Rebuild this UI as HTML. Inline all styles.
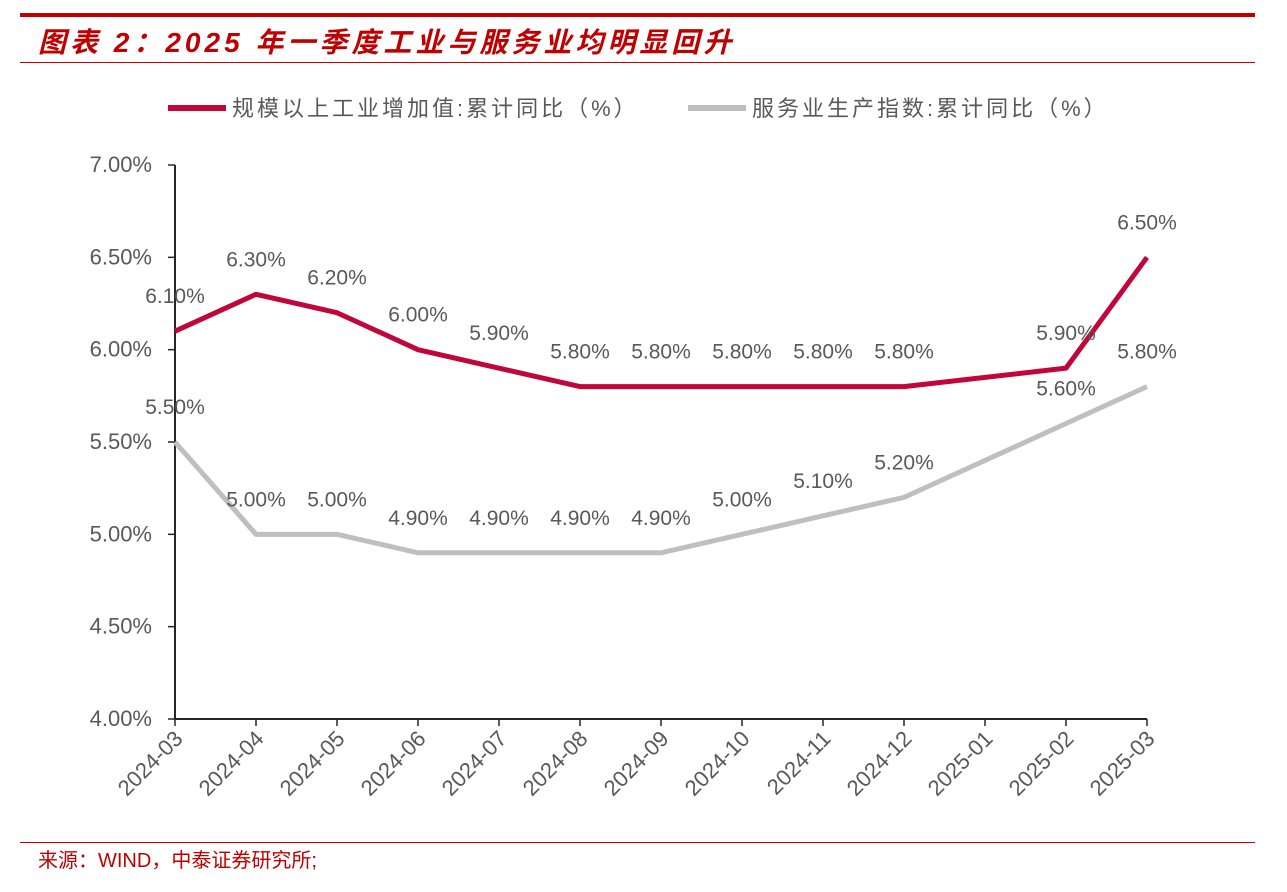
<!DOCTYPE html>
<html><head><meta charset="utf-8"><style>
body{margin:0;background:#fff;width:1287px;height:887px;overflow:hidden;font-family:"Liberation Sans","Noto Sans CJK SC",sans-serif}
</style></head><body>
<svg id="chart" width="1287" height="887" xmlns="http://www.w3.org/2000/svg" font-family="Liberation Sans, Noto Sans CJK SC, sans-serif">
<rect x="20" y="13" width="1235" height="4" fill="#c00000"/>
<text x="38" y="52" font-size="28" font-weight="bold" font-style="italic" letter-spacing="4" fill="#c00000">图表 2：2025 年一季度工业与服务业均明显回升</text>
<rect x="20" y="62" width="1235" height="1" fill="#c00000"/>
<g>
<line x1="168" y1="108" x2="226" y2="108" stroke="#c0063a" stroke-width="6"/>
<text x="232" y="116" font-size="22" letter-spacing="3" fill="#595959">规模以上工业增加值:累计同比（%）</text>
<line x1="688" y1="108" x2="746" y2="108" stroke="#bfbfbf" stroke-width="6"/>
<text x="752" y="116" font-size="22" letter-spacing="3" fill="#595959">服务业生产指数:累计同比（%）</text>
</g>
<g id="axes"></g>
<g id="series"></g>
<rect x="20" y="842" width="1235" height="1" fill="#c00000"/>
<text x="38" y="867" font-size="20" fill="#c00000">来源：WIND，中泰证券研究所;</text>
</svg>
<script>
const categories=["2024-03","2024-04","2024-05","2024-06","2024-07","2024-08","2024-09","2024-10","2024-11","2024-12","2025-01","2025-02","2025-03"];
const industry=[6.1,6.3,6.2,6.0,5.9,5.8,5.8,5.8,5.8,5.8,null,5.9,6.5];
const services=[5.5,5.0,5.0,4.9,4.9,4.9,4.9,5.0,5.1,5.2,null,5.6,5.8];
const yTicks=[4.0,4.5,5.0,5.5,6.0,6.5,7.0];
const NS="http://www.w3.org/2000/svg";
const x0=175,x1=1147,yTop=165,yBot=719,yMin=4,yMax=7;
const xs=i=>x0+(x1-x0)*i/(categories.length-1);
const ys=v=>yBot-(v-yMin)/(yMax-yMin)*(yBot-yTop);
function mk(tag,attrs,parent){const e=document.createElementNS(NS,tag);for(const k in attrs)e.setAttribute(k,attrs[k]);parent.appendChild(e);return e;}
const ax=document.getElementById('axes');
let e=mk('line',{x1:x0,y1:yTop,x2:x0,y2:yBot,stroke:'#262626','stroke-width':2},ax);


e=mk('line',{x1:x0,y1:yBot,x2:x1,y2:yBot,stroke:'#262626','stroke-width':2},ax);


yTicks.forEach(v=>{
 const t=mk('line',{x1:x0-7,y1:ys(v),x2:x0,y2:ys(v),stroke:'#262626','stroke-width':1.5},ax);
 
 
 const l=mk('text',{x:152,y:ys(v)+7,'text-anchor':'end','font-size':22,fill:'#595959'},ax);
 l.textContent=v.toFixed(2)+'%';
 
 
});
categories.forEach((c,i)=>{
 const x=xs(i);
 const t=mk('line',{x1:x,y1:yBot,x2:x,y2:yBot+7,stroke:'#262626','stroke-width':1.5},ax);
 
 
 const l=mk('text',{x:x+9,y:yBot+21,'text-anchor':'end','font-size':22,fill:'#595959',transform:`rotate(-45 ${x+9} ${yBot+21})`},ax);
 l.textContent=c;
 
 
});
const sg=document.getElementById('series');
function draw(data,color,name){
 const pts=[];data.forEach((v,i)=>{if(v!==null)pts.push([xs(i),ys(v)]);});
 const p=mk('polyline',{points:pts.map(p=>p.join(',')).join(' '),fill:'none',stroke:color,'stroke-width':5,'stroke-linejoin':'round'},sg);
 
 
 data.forEach((v,i)=>{if(v===null)return;
  const l=mk('text',{x:xs(i),y:ys(v)-28,'text-anchor':'middle','font-size':21,fill:'#595959'},sg);
  l.textContent=v.toFixed(2)+'%';
  
  
 });
}
draw(services,'#bfbfbf','services');
draw(industry,'#c0063a','industry');
</script>
</body></html>
